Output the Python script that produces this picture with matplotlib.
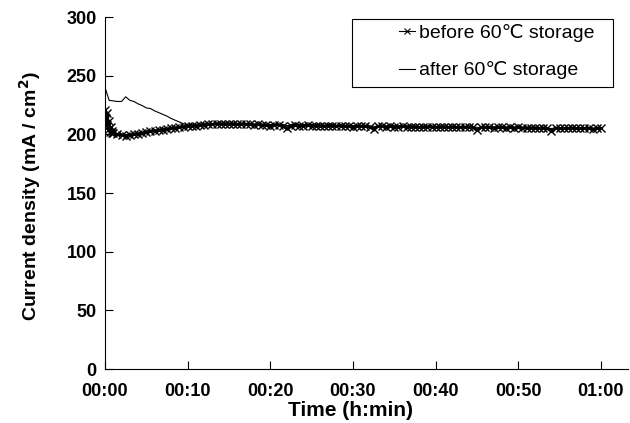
import matplotlib
matplotlib.use("Agg")
import matplotlib.pyplot as plt
import numpy as np
from matplotlib.patches import Rectangle
from matplotlib.ticker import FuncFormatter

plt.rcParams["font.family"] = ["Liberation Sans", "DejaVu Sans"]

# time in minutes
before_t = np.concatenate([np.arange(0, 1, 0.1), np.arange(1, 60.01, 0.5)])
before_j = [
    221, 214, 208, 218, 204, 211, 202, 206, 201, 203,
    201, 200, 199.5, 199, 199.5, 200, 200.5, 201, 202, 202.5,
    203, 203.5, 204, 204.5, 205, 205.5, 206, 206.5, 207, 207,
    207.5, 208, 208, 208.5, 208.5, 209, 209, 209, 209, 209,
    208.5, 209, 208.5, 208.5, 208, 208.5, 208, 208, 207.5, 208,
    208, 207.5, 205, 207.5, 208, 207.5, 207.5, 208, 207.5, 207.5,
    207.5, 207, 207.5, 207.5, 207, 207.5, 207, 207, 206.5, 207,
    207, 207, 206.5, 204.5, 207, 207, 206.5, 207, 206.5, 206.5,
    207, 206.5, 206.5, 206.5, 206, 206.5, 206.5, 206.5, 206, 206.5,
    206.5, 206, 206.5, 206, 206, 206, 206.5, 206, 203.5, 206,
    206, 206, 205.5, 206, 206, 205.5, 206, 205.5, 206, 205.5,
    205.5, 205.5, 205.5, 205, 205.5, 205, 203, 205.5, 205, 205,
    205, 205.5, 205, 205, 205, 205, 204.5, 205, 205,
]

after_t = np.arange(0, 60.01, 0.5)
after_j = [
    240, 229, 228.5, 228, 228, 232, 229, 228, 226, 224.5,
    222.5, 222, 220, 218.5, 217, 215.5, 213.5, 212, 210.5, 209,
    208, 208, 208.5, 208.5, 209, 209, 209, 209.5, 209, 209,
    209, 208.5, 208.5, 208.5, 208, 208, 208, 208, 208, 207.5,
    207.5, 207.5, 207.5, 207.5, 207.5, 207.5, 207.5, 207, 207, 207,
    207, 207, 207, 207, 207, 207, 207, 206.5, 206.5, 206.5,
    206.5, 206.5, 206.5, 206.5, 206.5, 206.5, 206.5, 206.5, 206.5, 206.5,
    206.5, 206.5, 206.5, 206, 206, 206, 206, 206, 206, 206,
    206, 206, 206, 206, 206, 206, 206, 206, 206, 206,
    206, 205.5, 205.5, 205.5, 205.5, 205.5, 205.5, 205.5, 205.5, 205.5,
    205.5, 205.5, 205.5, 205.5, 205, 205, 205, 205, 205, 205,
    205, 205, 205, 205, 205, 205, 205, 205, 205, 205,
    205,
]

x_ticks = np.arange(0, 61, 10)
y_ticks = np.arange(0, 301, 50)

W, H = 630, 423
fig = plt.figure(figsize=(W / 100, H / 100), dpi=100)
ax = fig.add_axes([105 / W, 1 - 369 / H, 523 / W, 352 / H])

ax.plot(after_t, after_j, color="black", lw=0.8, label="after 60\u2103 storage")
ax.plot(before_t, before_j, color="black", lw=2.2, marker="x", ms=5.5, mew=1.0,
        label="before 60\u2103 storage")

ax.set_xlim(0, 523 / (496 / 60))
ax.set_ylim(0, 300)
ax.set_xticks(x_ticks)
ax.set_yticks(y_ticks)
ax.xaxis.set_major_formatter(FuncFormatter(lambda v, p: f"{int(v) // 60:02d}:{int(v) % 60:02d}"))
ax.tick_params(direction="in", length=6, width=0.8, labelsize=13)
ax.tick_params(axis="x", pad=10)
ax.tick_params(axis="y", pad=6)
for lab in ax.get_xticklabels() + ax.get_yticklabels():
    lab.set_fontweight("bold")

for s in ["top", "right"]:
    ax.spines[s].set_visible(False)
for s in ["left", "bottom"]:
    ax.spines[s].set_linewidth(0.8)

ax.set_xlabel("Time (h:min)", fontsize=15, fontweight="bold")
ax.xaxis.set_label_coords((350 - 105) / 523, (369 - 410) / 352)
ax.xaxis.label.set_va("center")
ax.set_ylabel("Current density (mA / cm$^\\mathbf{2}$)", fontsize=14, fontweight="bold")
ax.yaxis.set_label_coords((30 - 105) / 523, 0.49)
ax.yaxis.label.set_va("center")

# legend box is wider than its contents in the reference, so frame drawn separately
fig.patches.append(Rectangle((352 / W, 1 - 87 / H), 261 / W, 68 / H, transform=fig.transFigure,
                             fill=False, edgecolor="black", lw=0.8))
handles, labels = ax.get_legend_handles_labels()
leg = ax.legend(handles[::-1], labels[::-1], loc="upper left", bbox_to_anchor=(395 / W, 1 - 20 / H),
                bbox_transform=fig.transFigure, borderaxespad=0, frameon=False,
                fontsize=14, handlelength=0.85, handletextpad=0.2,
                borderpad=0.2, labelspacing=1.0)
leg.get_lines()[0].set_markersize(5)
leg.get_lines()[0].set_markeredgewidth(0.8)
leg.get_lines()[0].set_linewidth(0.8)

fig.savefig("out.png", dpi=100)
